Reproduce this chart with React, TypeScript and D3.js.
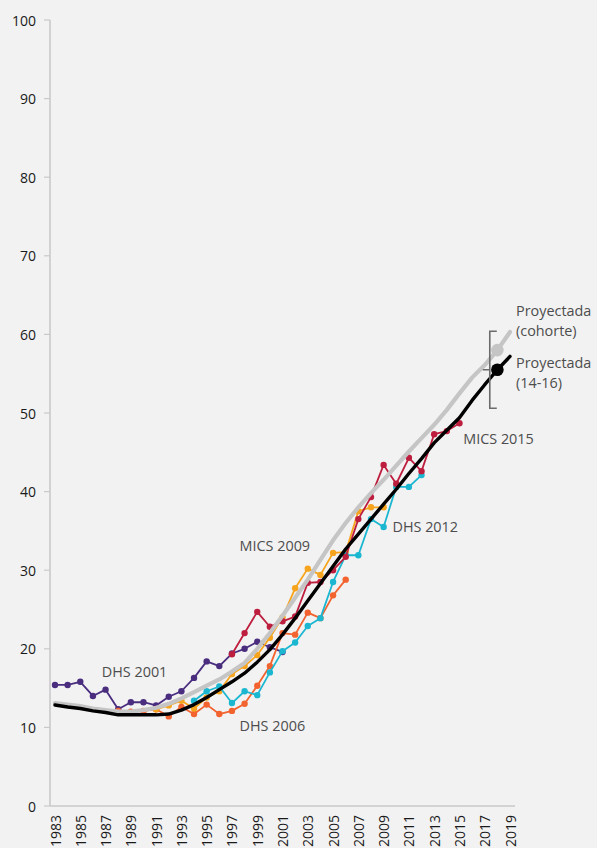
import React from "react";
import * as d3 from "d3";

const W = 597;
const H = 848;

const yTicks = [0, 10, 20, 30, 40, 50, 60, 70, 80, 90, 100];
const xTickYears = [1983, 1985, 1987, 1989, 1991, 1993, 1995, 1997, 1999, 2001, 2003, 2005, 2007, 2009, 2011, 2013, 2015, 2017, 2019];

const dhs2001Start = 1983;
const dhs2001 = [15.4, 15.4, 15.8, 14.0, 14.8, 12.3, 13.2, 13.2, 12.8, 13.9, 14.6, 16.3, 18.4, 17.8, 19.4, 20.0, 20.9, 20.2, 19.6];
const dhs2006Start = 1988;
const dhs2006 = [12.1, 12.0, 12.1, 12.3, 11.4, 12.6, 11.7, 12.9, 11.7, 12.1, 13.0, 15.3, 17.8, 22.0, 21.8, 24.6, 23.9, 26.8, 28.8];
const mics2009Start = 1991;
const mics2009 = [12.3, 12.8, 13.4, 12.4, 13.8, 14.6, 16.8, 17.8, 19.2, 21.4, 24.0, 27.7, 30.2, 29.4, 32.2, 32.3, 37.5, 38.0, 38.0];
const dhs2012Start = 1994;
const dhs2012 = [13.4, 14.6, 15.2, 13.1, 14.6, 14.1, 17.0, 19.7, 20.8, 22.9, 23.9, 28.5, 31.9, 31.9, 36.5, 35.5, 40.6, 40.6, 42.1];
const mics2015Start = 1997;
const mics2015 = [19.3, 22.0, 24.7, 22.8, 23.5, 24.1, 28.4, 28.5, 30.0, 31.7, 36.5, 39.3, 43.4, 41.0, 44.3, 42.6, 47.3, 47.7, 48.7];

const projStart = 1983;
const cohort = [13.1, 12.9, 12.7, 12.4, 12.2, 12.0, 12.0, 12.2, 12.5, 13.0, 13.7, 14.5, 15.3, 16.1, 17.1, 18.2, 20.0, 22.0, 24.2, 26.5, 28.8, 31.3, 33.8, 36.0, 38.0, 39.8, 41.5, 43.3, 45.1, 46.8, 48.5, 50.4, 52.5, 54.5, 56.1, 58.0, 60.3];
const age1416 = [12.85, 12.6, 12.4, 12.1, 11.9, 11.6, 11.6, 11.6, 11.6, 11.7, 12.2, 12.9, 13.8, 14.8, 15.8, 16.9, 18.3, 19.9, 21.8, 23.9, 26.1, 28.3, 30.5, 32.7, 34.6, 36.5, 38.4, 40.3, 42.3, 44.2, 46.2, 47.8, 49.4, 51.6, 53.6, 55.5, 57.2];

const markerYear = 2018;
const cohortMarker = 58.0;
const age1416Marker = 55.5;
const bracketYear = 2017.4;
const bracketTop = 60.4;
const bracketBottom = 50.6;
const bracketMid = 55.5;

const surveyNames = ["DHS 2001", "DHS 2006", "MICS 2009", "DHS 2012", "MICS 2015"];
const surveyStarts = [dhs2001Start, dhs2006Start, mics2009Start, dhs2012Start, mics2015Start];
const surveyValues = [dhs2001, dhs2006, mics2009, dhs2012, mics2015];
const surveyColors = ["#4a2d7f", "#f2632f", "#f6a41d", "#1bb7d1", "#be1e3e"];
// label anchors in data units [year, value]
const surveyLabelPos: [number, number][] = [[1986.7, 16.4], [1997.6, 9.5], [1997.6, 32.4], [2009.7, 34.8], [2015.3, 46.1]];

type P = { year: number; v: number };
const toPts = (start: number, vals: number[]): P[] => vals.map((v, i) => ({ year: start + i, v }));

export default function App() {
  const x = d3.scaleLinear().domain([1983, 2019]).range([55, 510]);
  const y = d3.scaleLinear().domain([0, 100]).range([806, 20]);
  const line = d3.line<P>().x((d) => x(d.year)).y((d) => y(d.v));
  const font = "'Open Sans', 'Noto Sans', sans-serif";
  const axisColor = "#c9c9c9";
  const labelColor = "#4d4d4d";
  const lf = 14.4;

  return (
    <svg width={W} height={H} style={{ position: "absolute", left: 0, top: 0, background: "#f2f2f2" }} fontFamily={font}>
      <rect x={0} y={0} width={W} height={H} fill="#f2f2f2" />
      {/* y axis */}
      <line x1={50} x2={50} y1={y(100)} y2={y(0)} stroke={axisColor} strokeWidth={1.6} />
      {yTicks.map((t) => (
        <g key={t}>
          <line x1={44} x2={50} y1={y(t)} y2={y(t)} stroke={axisColor} strokeWidth={1.2} />
          <text x={36} y={y(t)} textAnchor="end" dominantBaseline="central" fontSize={14} fill="#1a1a1a">
            {t}
          </text>
        </g>
      ))}
      {/* x axis */}
      <line x1={50} x2={515} y1={y(0)} y2={y(0)} stroke={axisColor} strokeWidth={1.6} />
      {xTickYears.map((yr) => (
        <text
          key={yr}
          transform={`translate(${x(yr)},${y(0) + 9}) rotate(-90)`}
          textAnchor="end"
          dominantBaseline="central"
          fontSize={14}
          fill="#1a1a1a"
        >
          {yr}
        </text>
      ))}
      {/* survey series */}
      {surveyValues.map((vals, i) => {
        const pts = toPts(surveyStarts[i], vals);
        return (
          <g key={surveyNames[i]}>
            <path d={line(pts) || ""} fill="none" stroke={surveyColors[i]} strokeWidth={1.8} strokeLinejoin="round" />
            {pts.map((p) => (
              <circle key={p.year} cx={x(p.year)} cy={y(p.v)} r={3.2} fill={surveyColors[i]} />
            ))}
          </g>
        );
      })}
      {/* projections */}
      <path d={line(toPts(projStart, cohort)) || ""} fill="none" stroke="#c5c5c5" strokeWidth={4.2} strokeLinejoin="round" strokeLinecap="round" />
      <path d={line(toPts(projStart, age1416)) || ""} fill="none" stroke="#000" strokeWidth={3.4} strokeLinejoin="round" strokeLinecap="round" />
      <circle cx={x(markerYear)} cy={y(cohortMarker)} r={6.3} fill="#c5c5c5" />
      <circle cx={x(markerYear)} cy={y(age1416Marker)} r={6.3} fill="#000" />
      {/* bracket */}
      <path
        d={`M${x(bracketYear) + 7},${y(bracketTop)} H${x(bracketYear)} V${y(bracketBottom)} H${x(bracketYear) + 7} M${x(bracketYear)},${y(bracketMid)} H${x(bracketYear) - 7}`}
        fill="none"
        stroke="#6b6b6b"
        strokeWidth={1.6}
      />
      {/* labels */}
      {surveyNames.map((n, i) => (
        <text key={n} x={x(surveyLabelPos[i][0])} y={y(surveyLabelPos[i][1])} fontSize={lf} fill={labelColor}>
          {n}
        </text>
      ))}
      <text x={516} y={316} fontSize={lf} fill={labelColor}>Proyectada</text>
      <text x={516} y={336} fontSize={lf} fill={labelColor}>(cohorte)</text>
      <text x={516} y={368} fontSize={lf} fill={labelColor}>Proyectada</text>
      <text x={516} y={388} fontSize={lf} fill={labelColor}>(14-16)</text>
    </svg>
  );
}
